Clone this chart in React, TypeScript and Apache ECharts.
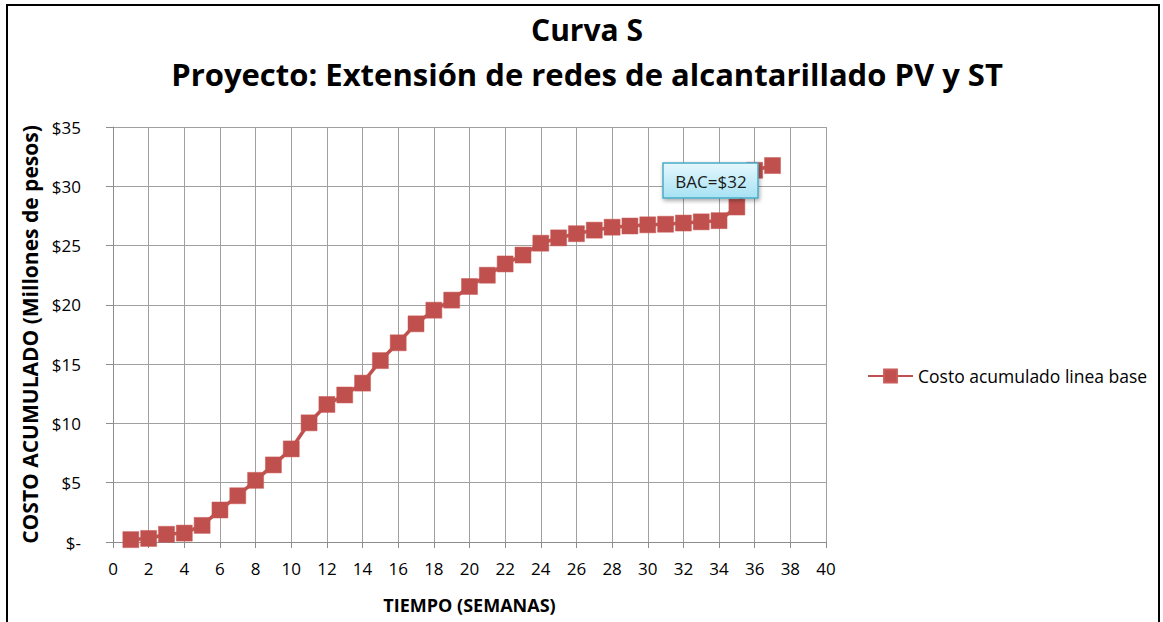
import React, { useEffect, useRef } from "react";
import * as echarts from "echarts";

const weeks: number[] = Array.from({ length: 37 }, (_, i) => i + 1);
const costoAcumulado: number[] = [
  0.2, 0.3, 0.65, 0.75, 1.4, 2.7, 3.9, 5.2, 6.5, 7.85,
  10.05, 11.6, 12.4, 13.4, 15.3, 16.8, 18.4, 19.55, 20.4, 21.55,
  22.5, 23.45, 24.2, 25.2, 25.65, 26.0, 26.3, 26.55, 26.65, 26.75,
  26.8, 26.9, 27.0, 27.1, 28.25, 31.35, 31.75,
];
const seriesName = "Costo acumulado linea base";
const titleLines = ["Curva S", "Proyecto: Extensión de redes de alcantarillado PV y ST"];
const xTitle = "TIEMPO (SEMANAS)";
const yTitle = "COSTO ACUMULADO (Millones de pesos)";
const calloutText = "BAC=$32";

const FONT = "'Open Sans', 'Noto Sans', sans-serif";

export default function App() {
  const ref = useRef<HTMLDivElement>(null);
  useEffect(() => {
    if (!ref.current) return;
    const chart = echarts.init(ref.current, null, { renderer: "svg" });
    chart.setOption({
      animation: false,
      backgroundColor: "#ffffff",
      textStyle: { fontFamily: FONT },
      title: [
        {
          text: titleLines[0],
          left: 582,
          textAlign: "center",
          top: 9,
          textStyle: { fontSize: 30, fontWeight: "bold", color: "#000", fontFamily: FONT },
        },
        {
          text: titleLines[1],
          left: 582,
          textAlign: "center",
          top: 53,
          textStyle: { fontSize: 31, fontWeight: "bold", color: "#000", fontFamily: FONT },
        },
      ],
      grid: { left: 113, right: 337, top: 127, bottom: 80, containLabel: false },
      legend: {
        left: 862,
        top: 362,
        itemWidth: 45,
        itemHeight: 16,
        itemGap: 4,
        textStyle: { fontSize: 17.5, color: "#000", fontFamily: FONT },
        data: [{ name: seriesName }],
      },
      xAxis: {
        type: "value",
        min: 0,
        max: 40,
        interval: 2,
        name: xTitle,
        nameLocation: "middle",
        nameGap: 54,
        nameTextStyle: { fontSize: 18, fontWeight: "bold", color: "#000", fontFamily: FONT },
        axisLine: { show: true, onZero: false, lineStyle: { color: "#8c8c8c", width: 1 } },
        axisTick: { show: true, length: 6, lineStyle: { color: "#8c8c8c" } },
        axisLabel: { fontSize: 17, color: "#000", margin: 18, fontFamily: FONT },
        splitLine: { show: true, lineStyle: { color: "#a0a0a0", width: 1 } },
      },
      yAxis: {
        type: "value",
        min: 0,
        max: 35,
        interval: 5,
        name: yTitle,
        nameLocation: "middle",
        nameGap: 67,
        nameRotate: 90,
        nameTextStyle: { fontSize: 21, fontWeight: "bold", color: "#000", fontFamily: FONT },
        axisLine: { show: true, lineStyle: { color: "#8c8c8c", width: 1 } },
        axisTick: { show: true, length: 7, lineStyle: { color: "#8c8c8c" } },
        axisLabel: {
          fontSize: 17,
          color: "#000",
          margin: 32,
          fontFamily: FONT,
          formatter: (v: number) => (v === 0 ? "$-" : "$" + v),
        },
        splitLine: { show: true, lineStyle: { color: "#a0a0a0", width: 1 } },
      },
      series: [
        {
          name: seriesName,
          type: "line",
          data: weeks.map((w, i) => [w, costoAcumulado[i]]),
          symbol: "rect",
          symbolSize: 16,
          lineStyle: { color: "#c0504d", width: 3.5 },
          itemStyle: { color: "#c0504d", borderColor: "#c85a57", borderWidth: 0.5 },
          z: 3,
        },
      ],
      graphic: [
        {
          type: "rect",
          shape: { x: 7, y: 5, width: 1152, height: 640 },
          style: { fill: "none", stroke: "#000", lineWidth: 2 },
          z: 0,
          silent: true,
        },
        {
          type: "rect",
          z: 100,
          zlevel: 1,
          shape: { x: 663, y: 163, width: 95, height: 35 },
          style: {
            fill: new echarts.graphic.LinearGradient(0, 0, 0, 1, [
              { offset: 0, color: "#e6f7fd" },
              { offset: 1, color: "#a6e2f4" },
            ]),
            stroke: "#4bacc6",
            lineWidth: 1.5,
            shadowBlur: 4,
            shadowOffsetX: 1,
            shadowOffsetY: 2,
            shadowColor: "rgba(0,0,0,0.35)",
          },
        },
        {
          type: "text",
          z: 101,
          zlevel: 1,
          style: {
            x: 711,
            y: 181,
            text: calloutText,
            fill: "#1a1a1a",
            fontSize: 17,
            fontFamily: FONT,
            textAlign: "center",
            textVerticalAlign: "middle",
          },
        },
      ],
    });
    return () => chart.dispose();
  }, []);
  return (
    <div
      ref={ref}
      style={{ position: "fixed", left: 0, top: 0, width: 1163, height: 622 }}
    />
  );
}
